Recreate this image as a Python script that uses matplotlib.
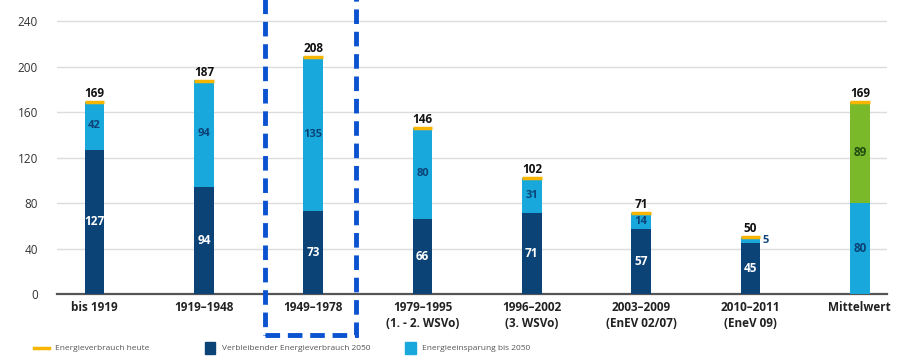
import matplotlib.pyplot as plt
from matplotlib.patches import Rectangle

plt.rcParams['font.family'] = ['Open Sans', 'DejaVu Sans']

# Values per building age class (kWh/m²a)
categories = ['bis 1919', '1919–1948', '1949–1978', '1979–1995\n(1. - 2. WSVo)',
              '1996–2002\n(3. WSVo)', '2003–2009\n(EnEV 02/07)', '2010–2011\n(EneV 09)',
              'Mittelwert']
remaining_2050 = [127, 94, 73, 66, 71, 57, 45]
savings_2050 = [42, 94, 135, 80, 31, 14, 5]
consumption_today = [169, 187, 208, 146, 102, 71, 50]

# Average bar
mean_remaining = 80
mean_savings = 89
mean_today = 169

dark_blue = '#0b4377'
light_blue = '#19a8dc'
green = '#7ab929'
yellow = '#f7b500'

fig = plt.figure(figsize=(8.97, 3.56), dpi=100)
ax = fig.add_axes([0.064, 0.174, 0.925, 0.783])

x = list(range(len(remaining_2050)))
w = 0.18
ax.bar(x, remaining_2050, width=w, color=dark_blue, zorder=3)
ax.bar(x, savings_2050, width=w, bottom=remaining_2050, color=light_blue, zorder=3)

xm = len(remaining_2050)
ax.bar(xm, mean_remaining, width=w, color=light_blue, zorder=3)
ax.bar(xm, mean_savings, width=w, bottom=mean_remaining, color=green, zorder=3)

# Current consumption as yellow cap on each bar
for xi, t in zip(x + [xm], consumption_today + [mean_today]):
    ax.plot([xi - w / 2, xi + w / 2], [t, t], color=yellow, lw=2.5,
            solid_capstyle='butt', zorder=4)
    ax.text(xi, t + 2, str(t), ha='center', va='bottom', fontsize=8.5,
            fontweight='bold', color='#111111', zorder=5)

# Segment labels
for xi, r, s in zip(x, remaining_2050, savings_2050):
    ax.text(xi, r / 2, str(r), ha='center', va='center', fontsize=8.5,
            fontweight='bold', color='white', zorder=5)
    if s < 10:
        ax.text(xi + w / 2 + 0.02, r + s / 2, str(s), ha='left', va='center',
                fontsize=8, fontweight='bold', color=dark_blue, zorder=5)
    else:
        ax.text(xi, r + s / 2, str(s), ha='center', va='center', fontsize=8,
                fontweight='bold', color=dark_blue, zorder=5)
ax.text(xm, mean_remaining / 2, str(mean_remaining), ha='center', va='center',
        fontsize=8.5, fontweight='bold', color=dark_blue, zorder=5)
ax.text(xm, mean_remaining + mean_savings / 2, str(mean_savings), ha='center',
        va='center', fontsize=8.5, fontweight='bold', color='#1f4a10', zorder=5)

ax.set_xlim(-0.34, 7.25)
ax.set_ylim(0, 245)
ax.set_yticks(range(0, 241, 40))
ax.yaxis.grid(True, color='#dcdcdc', lw=1, zorder=0)
ax.set_xticks(x + [xm])
ax.set_xticklabels(categories, fontsize=8.5, fontweight='bold', color='#222222',
                   linespacing=1.3)
ax.tick_params(axis='x', length=0, pad=5)
ax.tick_params(axis='y', length=0, pad=14, labelsize=8.5, labelcolor='#333333')
for side in ['top', 'right', 'left']:
    ax.spines[side].set_visible(False)
ax.spines['bottom'].set_color('#555555')
ax.spines['bottom'].set_linewidth(1.6)

# Highlight box around 1949–1978
box = Rectangle((2 - 0.44, -0.147), 0.83, 1.3, transform=ax.get_xaxis_transform(),
                fill=False, edgecolor='#0a52d0', lw=3.5, linestyle=(0, (3, 1.6)),
                clip_on=False, zorder=6)
ax.add_patch(box)

# Legend row
ly = 0.022
fig.add_artist(plt.Line2D([0.038, 0.055], [ly, ly], color=yellow, lw=2.5,
                          transform=fig.transFigure))
fig.text(0.061, ly, 'Energieverbrauch heute', fontsize=6, color='#555555', va='center')
fig.add_artist(Rectangle((0.228, ly - 0.016), 0.012, 0.032, color=dark_blue,
                         transform=fig.transFigure))
fig.text(0.247, ly, 'Verbleibender Energieverbrauch 2050', fontsize=6,
         color='#555555', va='center')
fig.add_artist(Rectangle((0.452, ly - 0.016), 0.012, 0.032, color=light_blue,
                         transform=fig.transFigure))
fig.text(0.471, ly, 'Energieeinsparung bis 2050', fontsize=6, color='#555555',
         va='center')

fig.savefig('out.png', dpi=100, facecolor='white')
